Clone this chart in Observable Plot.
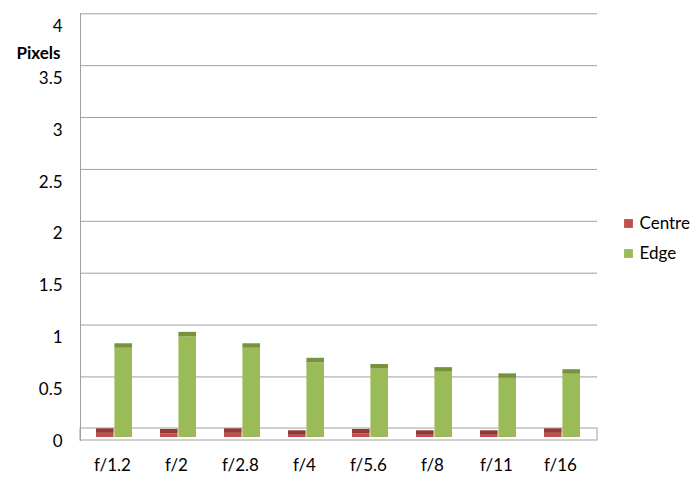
<!DOCTYPE html>
<html><head><meta charset="utf-8">
<script src="https://cdn.jsdelivr.net/npm/d3@7"></script>
<script src="https://cdn.jsdelivr.net/npm/@observablehq/plot@0.6"></script>
<style>body{margin:0;background:#fff;font-family:Lato,sans-serif}</style>
</head><body><div id="chart"></div>
<script>
const apertures = ["f/1.2","f/2","f/2.8","f/4","f/5.6","f/8","f/11","f/16"];
const centre = [0.040,0.034,0.040,0.021,0.034,0.021,0.021,0.040];
const edge = [0.86,0.97,0.86,0.72,0.66,0.63,0.57,0.61];
const seriesNames = ["Centre","Edge"];
const faceColors = ["#c0504d","#9bbb59"];
const capColors = ["#953735","#76923c"];
const yTicks = [0,0.5,1,1.5,2,2.5,3,3.5,4];
const yTickLabels = ["0","0.5","1","1.5","2","2.5","3","3.5","4"];
const yLabel = "Pixels";

const rows = apertures.flatMap((a, i) => [
  {aperture: a, series: "Centre", value: centre[i]},
  {aperture: a, series: "Edge", value: edge[i]}
]);

const W = 698, H = 483, mL = 80, mR = 101, mT = 13, mB = 43;
const padIn = 0.43, padOut = 0.22;
const step = (W - mL - mR) / (apertures.length - padIn + 2 * padOut);
const half = step * (1 - padIn) / 2;
const grid = "#a0a0a0";

const marks = [
  Plot.ruleY(yTicks, {y: d => d, dy: -8.7, stroke: grid}),
  Plot.rect([0], {y1: 0, y2: 0, insetTop: -9, insetBottom: -3, fill: "white", stroke: grid}),
  Plot.frame({anchor: "left", stroke: grid})
];
seriesNames.forEach((s, k) => {
  const data = rows.filter(d => d.series === s);
  const ins = k === 0 ? {insetRight: half} : {insetLeft: half};
  marks.push(Plot.barY(data, {x: "aperture", y1: 0, y2: "value", fill: faceColors[k], ...ins}));
  marks.push(Plot.barY(data, {x: "aperture", y1: "value", y2: "value", insetTop: -4.5, fill: capColors[k], ...ins}));
  marks.push(Plot.dot([s], {frameAnchor: "right", dx: 31, dy: -3.5 + k * 30, symbol: "square", r: 5, fill: faceColors[k], stroke: null}));
  marks.push(Plot.text([s], {frameAnchor: "right", dx: 42, dy: -3.5 + k * 30, text: d => d, textAnchor: "start", fontSize: 17, fill: "#000"}));
});
marks.push(
  Plot.axisY(yTicks, {tickSize: 0, tickPadding: 18, dy: 4, fontSize: 17, fill: "#000", tickFormat: d => yTickLabels[yTicks.indexOf(d)], label: null}),
  Plot.axisX({tickSize: 0, tickPadding: 18, dx: -2, fontSize: 17, fill: "#000", label: null}),
  Plot.text([yLabel], {frameAnchor: "top-left", dx: -20, dy: 33.5, text: d => d, textAnchor: "end", fontWeight: "bold", fontSize: 17, fill: "#000"})
);

const chart = Plot.plot({
  width: W, height: H,
  marginLeft: mL, marginRight: mR, marginTop: mT, marginBottom: mB,
  style: {fontFamily: "Lato, sans-serif", background: "#fff", color: "#000"},
  x: {domain: apertures, paddingInner: padIn, paddingOuter: padOut, axis: null},
  y: {domain: [0, 4], insetTop: 9, insetBottom: 3, axis: null},
  marks
});
document.getElementById("chart").append(chart);
</script></body></html>
